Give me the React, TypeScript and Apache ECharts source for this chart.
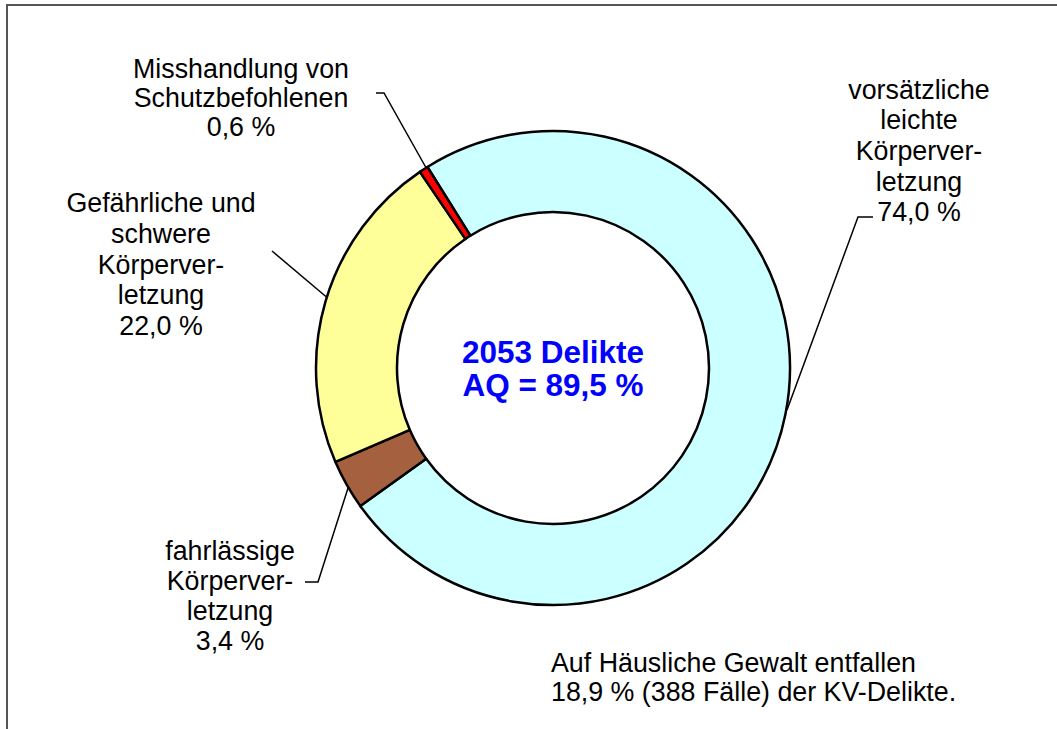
import React, { useEffect, useRef } from "react";
import * as echarts from "echarts";

const categories = [
  "vorsätzliche leichte Körperverletzung",
  "fahrlässige Körperverletzung",
  "Gefährliche und schwere Körperverletzung",
  "Misshandlung von Schutzbefohlenen",
];
const labelLines = [
  ["vorsätzliche", "leichte", "Körperver-", "letzung"],
  ["fahrlässige", "Körperver-", "letzung"],
  ["Gefährliche und", "schwere", "Körperver-", "letzung"],
  ["Misshandlung von", "Schutzbefohlenen"],
];
const values = [74.0, 3.4, 22.0, 0.6];
const sliceColors = ["#CCFFFF", "#A5603F", "#FFFF99", "#FF0000"];
const centerLines = ["2053 Delikte", "AQ = 89,5 %"];
const noteLines = ["Auf Häusliche Gewalt entfallen", "18,9 % (388 Fälle) der KV-Delikte."];

const fmt = (v: number) => v.toFixed(1).replace(".", ",") + " %";

export default function App() {
  const ref = useRef<HTMLDivElement>(null);
  useEffect(() => {
    document.body.style.margin = "0";
    if (!ref.current) return;
    const chart = echarts.init(ref.current, null, { renderer: "svg" });
    const font = '26.8px "Liberation Sans", Arial, sans-serif';
    const labelPos = [
      { x: 919, y: 151, lh: 30.7 },
      { x: 230, y: 596, lh: 30 },
      { x: 161, y: 264.5, lh: 30.7 },
      { x: 241, y: 98, lh: 29 },
    ];
    const leaders = [
      [[873, 217], [858, 217], [787, 410]],
      [[305, 582], [318, 582], [349, 485]],
      [[272, 251], [330, 300]],
      [[376, 93], [384, 93], [429, 173]],
    ];
    const graphics: any[] = [
      {
        type: "rect",
        shape: { x: 7, y: 5, width: 1200, height: 900 },
        style: { fill: "none", stroke: "#555", lineWidth: 2 },
        silent: true,
      },
    ];
    categories.forEach((c, i) => {
      graphics.push({
        type: "text",
        x: labelPos[i].x,
        y: labelPos[i].y,
        style: {
          text: [...labelLines[i], fmt(values[i])].join("\n"),
          font,
          fill: "#000",
          textAlign: "center",
          textVerticalAlign: "middle",
          lineHeight: labelPos[i].lh,
        },
      });
      graphics.push({
        type: "polyline",
        shape: { points: leaders[i] },
        style: { stroke: "#000", lineWidth: 1.5, fill: "none" },
      });
    });
    graphics.push({
      type: "text",
      x: 553,
      y: 368.5,
      style: {
        text: centerLines.join("\n"),
        font: 'bold 31.5px "Liberation Sans", Arial, sans-serif',
        fill: "#0000FF",
        textAlign: "center",
        textVerticalAlign: "middle",
        lineHeight: 33,
      },
    });
    graphics.push({
      type: "text",
      x: 551,
      y: 677.5,
      style: {
        text: noteLines.join("\n"),
        font,
        fill: "#000",
        textAlign: "left",
        textVerticalAlign: "middle",
        lineHeight: 29,
      },
    });
    chart.setOption({
      animation: false,
      backgroundColor: "#fff",
      series: [
        {
          type: "pie",
          center: [553, 368],
          radius: [156, 237],
          startAngle: 122,
          clockwise: true,
          label: { show: false },
          labelLine: { show: false },
          emphasis: { disabled: true },
          itemStyle: { borderColor: "#000", borderWidth: 2.5 },
          data: categories.map((c, i) => ({
            name: c,
            value: values[i],
            itemStyle: { color: sliceColors[i] },
          })),
        },
      ],
      graphic: graphics,
    });
    return () => chart.dispose();
  }, []);
  return <div ref={ref} style={{ width: 1057, height: 729 }} />;
}
